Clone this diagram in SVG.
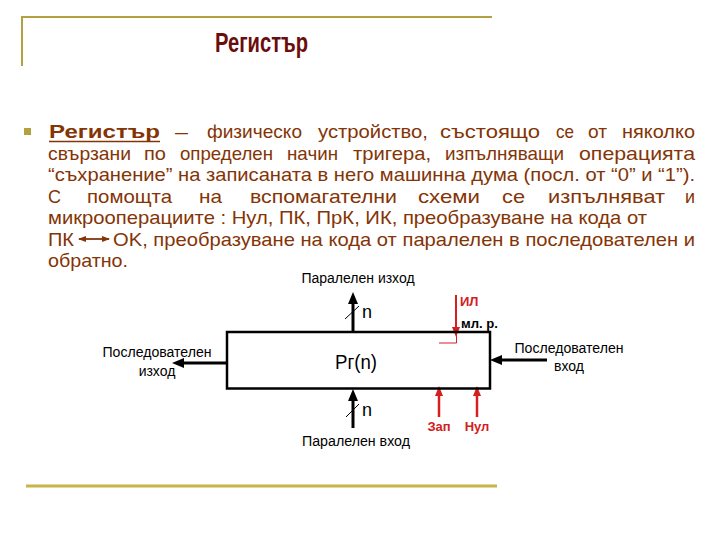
<svg xmlns="http://www.w3.org/2000/svg" width="720" height="540" viewBox="0 0 720 540">
<defs>
<style>
.frame{stroke:#b4a040;fill:none}
.t{font-family:"Liberation Sans",Arial,sans-serif;font-size:19px;fill:#843405}
.tb{font-weight:bold}
.lbl{font-family:"Liberation Sans",Arial,sans-serif;font-size:14px;fill:#000}
.red{font-family:"Liberation Sans",Arial,sans-serif;font-size:13px;font-weight:bold;fill:#d42020}
.blk{stroke:#000;stroke-width:3;fill:none}
.rl{stroke:#d42020;stroke-width:2.5;fill:none}
</style>
<marker id="ah" viewBox="0 0 12 10" refX="4" refY="5" markerWidth="12" markerHeight="10" markerUnits="userSpaceOnUse" orient="auto">
<path d="M0,0 L12,5 L0,10 z" fill="#000"/>
</marker>
<marker id="rh" viewBox="0 0 10 8" refX="2" refY="4" markerWidth="10" markerHeight="8" markerUnits="userSpaceOnUse" orient="auto">
<path d="M0,0 L10,4 L0,8 z" fill="#d42020"/>
</marker>
<marker id="bh" viewBox="0 0 8 6" refX="7" refY="3" markerWidth="8" markerHeight="6" markerUnits="userSpaceOnUse" orient="auto-start-reverse">
<path d="M0,0 L8,3 L0,6 z" fill="#843405"/>
</marker>
</defs>
<rect width="720" height="540" fill="#fff"/>
<g id="frame">
<line x1="21" y1="17" x2="492" y2="17" class="frame" stroke-width="2"/>
<line x1="22" y1="16" x2="22" y2="66" class="frame" stroke-width="2"/>
<line x1="26" y1="486" x2="497" y2="486" stroke="#c8b44a" stroke-width="3"/>
</g>
<text id="title" x="261.5" y="52" text-anchor="middle" font-family="Liberation Sans, Arial, sans-serif" font-size="27" font-weight="bold" fill="#6b0d0d" textLength="93" lengthAdjust="spacingAndGlyphs">Регистър</text>
<g id="body">
<rect x="24" y="128" width="7" height="7" fill="#b3a13f"/>
<text class="t tb" x="49" y="138" textLength="111" lengthAdjust="spacingAndGlyphs">Регистър</text>
<line x1="49" y1="141.5" x2="160" y2="141.5" stroke="#843405" stroke-width="1.6"/>
<text class="t" x="175" y="138" textLength="13" lengthAdjust="spacingAndGlyphs">–</text>
<text class="t" x="207" y="138" textLength="95" lengthAdjust="spacingAndGlyphs">физическо</text>
<text class="t" x="318" y="138" textLength="110" lengthAdjust="spacingAndGlyphs">устройство,</text>
<text class="t" x="440" y="138" textLength="100" lengthAdjust="spacingAndGlyphs">състоящо</text>
<text class="t" x="556" y="138" textLength="18" lengthAdjust="spacingAndGlyphs">се</text>
<text class="t" x="588" y="138" textLength="19" lengthAdjust="spacingAndGlyphs">от</text>
<text class="t" x="622" y="138" textLength="73" lengthAdjust="spacingAndGlyphs">няколко</text>

<text class="t" x="48" y="159.5" textLength="83" lengthAdjust="spacingAndGlyphs">свързани</text>
<text class="t" x="144" y="159.5" textLength="22" lengthAdjust="spacingAndGlyphs">по</text>
<text class="t" x="180" y="159.5" textLength="93" lengthAdjust="spacingAndGlyphs">определен</text>
<text class="t" x="287" y="159.5" textLength="51" lengthAdjust="spacingAndGlyphs">начин</text>
<text class="t" x="353" y="159.5" textLength="78" lengthAdjust="spacingAndGlyphs">тригера,</text>
<text class="t" x="445" y="159.5" textLength="119" lengthAdjust="spacingAndGlyphs">изпълняващи</text>
<text class="t" x="579" y="159.5" textLength="116" lengthAdjust="spacingAndGlyphs">операцията</text>

<text class="t" x="48" y="181" textLength="647" lengthAdjust="spacingAndGlyphs">“съхранение” на записаната в него машинна дума (посл. от “0” и “1”).</text>

<text class="t" x="48" y="202.5" textLength="13" lengthAdjust="spacingAndGlyphs">С</text>
<text class="t" x="87" y="202.5" textLength="85" lengthAdjust="spacingAndGlyphs">помощта</text>
<text class="t" x="199" y="202.5" textLength="23" lengthAdjust="spacingAndGlyphs">на</text>
<text class="t" x="250" y="202.5" textLength="147" lengthAdjust="spacingAndGlyphs">вспомагателни</text>
<text class="t" x="418" y="202.5" textLength="62" lengthAdjust="spacingAndGlyphs">схеми</text>
<text class="t" x="502" y="202.5" textLength="23" lengthAdjust="spacingAndGlyphs">се</text>
<text class="t" x="548" y="202.5" textLength="117" lengthAdjust="spacingAndGlyphs">изпълняват</text>
<text class="t" x="685" y="202.5" textLength="10" lengthAdjust="spacingAndGlyphs">и</text>

<text class="t" x="48" y="224" textLength="599" lengthAdjust="spacingAndGlyphs">микрооперациите : Нул, ПК, ПрК, ИК, преобразуване на кода от</text>

<text class="t" x="48" y="245.5" textLength="26" lengthAdjust="spacingAndGlyphs">ПК</text>
<line x1="79" y1="239" x2="109" y2="239" stroke="#843405" stroke-width="1.8" marker-start="url(#bh)" marker-end="url(#bh)"/>
<text class="t" x="113" y="245.5" textLength="582" lengthAdjust="spacingAndGlyphs">OK, преобразуване на кода от паралелен в последователен и</text>

<text class="t" x="48" y="267" textLength="80" lengthAdjust="spacingAndGlyphs">обратно.</text>
</g>
<g id="connectors">
<line x1="353" y1="332" x2="353" y2="300" class="blk" marker-end="url(#ah)"/>
<line x1="353" y1="428" x2="353" y2="397" class="blk" marker-end="url(#ah)"/>
<line x1="227" y1="363" x2="180" y2="363" class="blk" marker-end="url(#ah)"/>
<line x1="547" y1="360" x2="498" y2="360" class="blk" marker-end="url(#ah)"/>
<line x1="345" y1="319" x2="359" y2="306" stroke="#000" stroke-width="1"/>
<line x1="346" y1="417" x2="359" y2="404" stroke="#000" stroke-width="1"/>
<line x1="456" y1="295" x2="456" y2="329" stroke="#d42020" stroke-width="2" marker-end="url(#rh)"/>
<polyline points="456.5,332 456.5,343 439,343" fill="none" stroke="#d42020" stroke-width="1"/>
<line x1="439" y1="417" x2="439" y2="394" class="rl" marker-end="url(#rh)"/>
<line x1="477" y1="417" x2="477" y2="394" class="rl" marker-end="url(#rh)"/>
</g>
<g id="register">
<rect x="227" y="332" width="263" height="56.5" fill="none" stroke="#000" stroke-width="2.5"/>
<text x="356" y="369" text-anchor="middle" font-family="Liberation Sans, Arial, sans-serif" font-size="20" fill="#000" textLength="42" lengthAdjust="spacingAndGlyphs">Рг(n)</text>
</g>
<g id="par-out">
<text class="lbl" x="358" y="283" text-anchor="middle">Паралелен изход</text>
<text x="362" y="318" font-family="Liberation Sans, Arial, sans-serif" font-size="18" fill="#000">n</text>
</g>
<g id="par-in">
<text x="362" y="416" font-family="Liberation Sans, Arial, sans-serif" font-size="18" fill="#000">n</text>
<text class="lbl" x="356" y="446" text-anchor="middle" textLength="108" lengthAdjust="spacingAndGlyphs">Паралелен вход</text>
</g>
<g id="ser-out">
<text class="lbl" x="157" y="357" text-anchor="middle" textLength="109" lengthAdjust="spacingAndGlyphs">Последователен</text>
<text class="lbl" x="157" y="376" text-anchor="middle">изход</text>
</g>
<g id="ser-in">
<text class="lbl" x="569" y="353" text-anchor="middle" textLength="109" lengthAdjust="spacingAndGlyphs">Последователен</text>
<text class="lbl" x="569" y="371" text-anchor="middle">вход</text>
</g>
<g id="il">
<text class="red" x="460" y="306">ИЛ</text>
<text x="461" y="328" font-family="Liberation Sans, Arial, sans-serif" font-size="12.5" font-weight="bold" fill="#000" textLength="37" lengthAdjust="spacingAndGlyphs">мл. р.</text>
</g>
<g id="zap"><text class="red" x="439" y="431" text-anchor="middle">Зап</text></g>
<g id="nul"><text class="red" x="477" y="431" text-anchor="middle">Нул</text></g>
</svg>
